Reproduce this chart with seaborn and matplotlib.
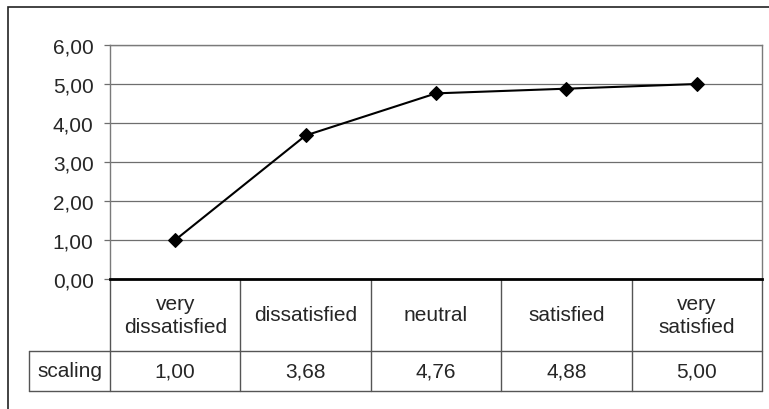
import matplotlib
matplotlib.use("Agg")
import matplotlib.pyplot as plt
from matplotlib.patches import Rectangle
import seaborn as sns
import pandas as pd

categories = ["very\ndissatisfied", "dissatisfied", "neutral", "satisfied", "very\nsatisfied"]
scaling = [1.00, 3.68, 4.76, 4.88, 5.00]
row_label = "scaling"
y_ticks = [0, 1, 2, 3, 4, 5, 6]

sns.set_style("white")
plt.rcParams['font.family'] = ['Liberation Sans', 'DejaVu Sans']

W, H = 769, 410
FS = 15
fig = plt.figure(figsize=(W / 100, H / 100), dpi=100)
L, R, T, B = 110, 762, 46, 280
ax = fig.add_axes([L / W, (H - B) / H, (R - L) / W, (B - T) / H])

df = pd.DataFrame({"pos": list(range(len(categories))), "value": scaling})
sns.lineplot(data=df, x="pos", y="value", ax=ax, color="black", linewidth=1.5,
             marker="D", markersize=7, markeredgecolor="black", zorder=5)

ax.set_xlim(-0.5, len(categories) - 0.5)
ax.set_ylim(y_ticks[0], y_ticks[-1])
ax.set_yticks(y_ticks)
ax.set_yticklabels([f"{v:.2f}".replace(".", ",") for v in y_ticks], fontsize=FS)
ax.set_xticks([])
ax.set_xlabel("")
ax.set_ylabel("")
ax.grid(axis="y", color="#6e6e6e", linewidth=0.9)
ax.tick_params(axis="y", direction="out", length=4.3, width=0.9, color="#6e6e6e", pad=7.5, left=True)
for s in ["left", "top", "right"]:
    ax.spines[s].set_color("#7a7a7a")
    ax.spines[s].set_linewidth(1.0)
ax.spines["bottom"].set_color("black")
ax.spines["bottom"].set_linewidth(2.0)

# table below the axis (axes-fraction coordinates)
h = B - T
y_row1 = (B - 352) / h
y_row2 = (B - 392) / h
x_lab = (29 - L) / (R - L)
n = len(categories)
lc = "#555555"
lw = 1.0
for k in range(n + 1):
    ax.plot([k / n, k / n], [0, y_row2], transform=ax.transAxes, color=lc, lw=lw, clip_on=False)
ax.plot([x_lab, 1], [y_row1, y_row1], transform=ax.transAxes, color=lc, lw=lw, clip_on=False)
ax.plot([x_lab, 1], [y_row2, y_row2], transform=ax.transAxes, color=lc, lw=lw, clip_on=False)
ax.plot([x_lab, x_lab], [y_row1, y_row2], transform=ax.transAxes, color=lc, lw=lw, clip_on=False)

for k, (cat, val) in enumerate(zip(categories, scaling)):
    xc = (k + 0.5) / n
    ax.text(xc, y_row1 / 2, cat, transform=ax.transAxes, ha="center", va="center",
            fontsize=FS, linespacing=1.3)
    ax.text(xc, (y_row1 + y_row2) / 2, f"{val:.2f}".replace(".", ","), transform=ax.transAxes,
            ha="center", va="center", fontsize=FS)
ax.text((x_lab + 0) / 2, (y_row1 + y_row2) / 2, row_label, transform=ax.transAxes,
        ha="center", va="center", fontsize=FS)

# outer chart border (extends past the right and bottom edges)
top = 1 - 7.5 / H
fig.patches.append(Rectangle((7.5 / W, -0.2), 1.2, top + 0.2,
                             transform=fig.transFigure, fill=False, edgecolor="#222222", lw=1.2))

fig.savefig("out.png", dpi=100)
